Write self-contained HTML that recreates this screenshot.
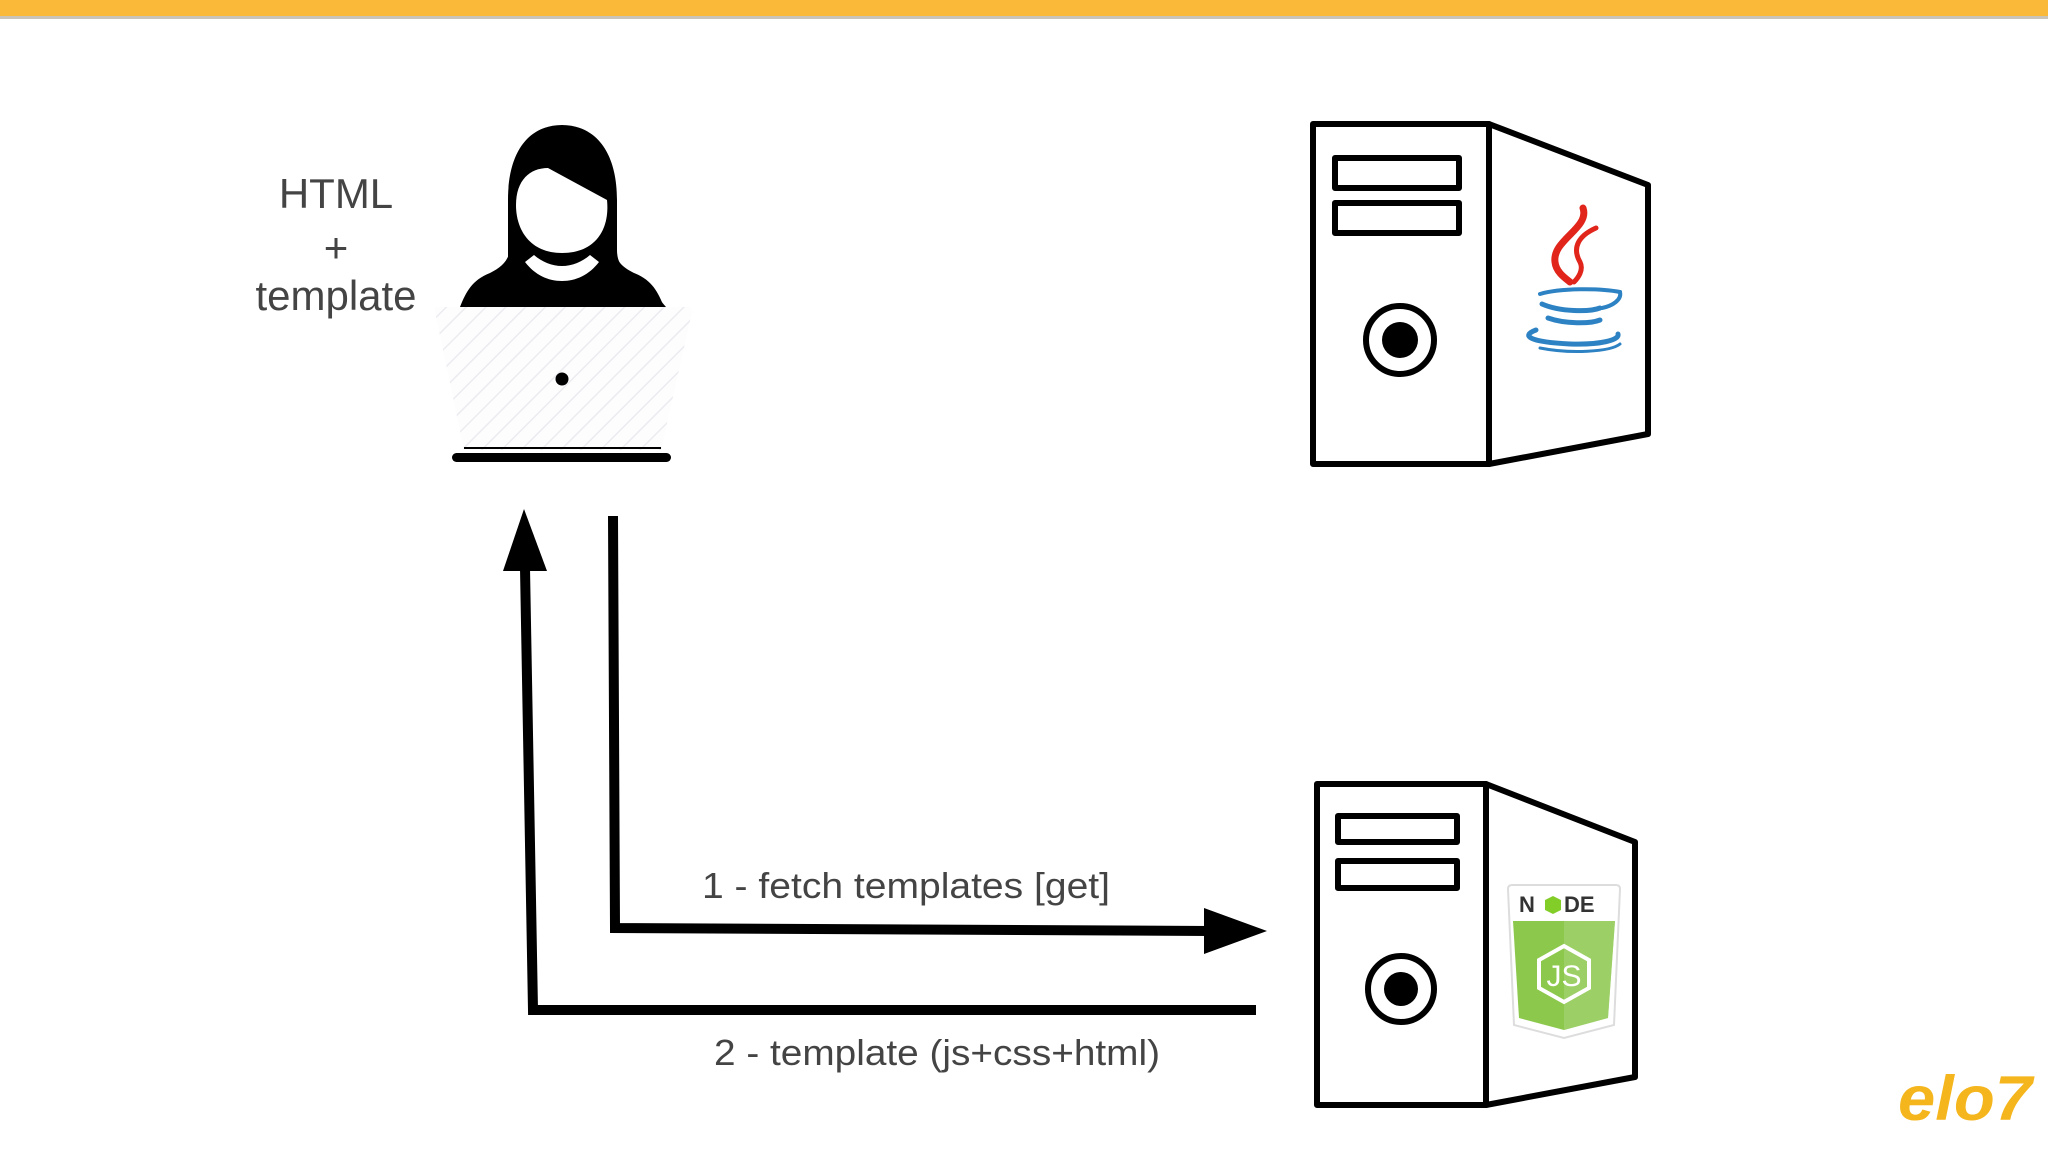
<!DOCTYPE html>
<html><head><meta charset="utf-8"><style>
html,body{margin:0;padding:0;background:#fff;}
svg{display:block;}
text{font-family:"Liberation Sans",Arial,sans-serif;}
</style></head><body>
<svg width="2048" height="1152" viewBox="0 0 2048 1152" xmlns="http://www.w3.org/2000/svg">
<defs>
<pattern id="hatch" width="14" height="14" patternUnits="userSpaceOnUse" patternTransform="rotate(45)">
<rect width="14" height="14" fill="#fdfdfe"/>
<line x1="0" y1="0" x2="0" y2="14" stroke="#ecebf0" stroke-width="3"/>
</pattern>
</defs>
<rect x="0" y="0" width="2048" height="16" fill="#FBB93A"/>
<rect x="0" y="16" width="2048" height="3" fill="#c9c3b8"/>

<g fill="#444" font-size="42" text-anchor="middle">
<text x="336" y="208">HTML</text>
<text x="336" y="262">+</text>
<text x="336" y="310">template</text>
</g>

<path d="M508 307 L508 200 C508 150 530 125 562 125 C594 125 617 150 617 200 L617 250 C617 265 625 272 640 282 C655 292 660 300 666 307 Z" fill="#000"/>
<path d="M460 307 C466 292 472 280 490 273 C500 268 508 262 510 250 L615 250 C616 262 624 268 634 273 C652 280 658 292 664 307 Z" fill="#000"/>
<path d="M516 205 C516 180 530 168 548 168 L607 200 C610 230 595 253 562 253 C530 253 516 230 516 205 Z" fill="#fff"/>
<path d="M525 262 C535 275 548 281 562 281 C576 281 589 275 599 262 L590 255 C582 262 572 266 562 266 C552 266 542 262 534 255 Z" fill="#fff"/>
<path d="M435 307 L690 307 L692 312 L661 450 L464 450 L435 312 Z" fill="url(#hatch)"/>
<line x1="464" y1="448" x2="661" y2="448" stroke="#000" stroke-width="2"/>
<rect x="452" y="453" width="219" height="9" rx="4.5" fill="#000"/>
<circle cx="562" cy="379" r="6.5" fill="#000"/>

<g fill="none" stroke="#000" stroke-width="10">
<polyline points="613,516 615,928 1210,931"/>
<polyline points="1256,1010 533,1010 525,568"/>
</g>
<polygon points="1204,908 1267,931 1204,954" fill="#000"/>
<polygon points="503,571 524,509 547,571" fill="#000"/>
<g fill="#444" font-size="36">
<text x="702" y="898" textLength="408" lengthAdjust="spacingAndGlyphs">1 - fetch templates [get]</text>
<text x="714" y="1065" textLength="446" lengthAdjust="spacingAndGlyphs">2 - template (js+css+html)</text>
</g>

<g fill="#fff" stroke="#000" stroke-width="6" stroke-linejoin="round">
<rect x="1313" y="124" width="176" height="340"/>
<polygon points="1489,124 1648,185 1648,434 1489,464"/>
<rect x="1335" y="158" width="124" height="30"/>
<rect x="1335" y="203" width="124" height="30"/>
<circle cx="1400" cy="340" r="34"/>
</g>
<circle cx="1400" cy="340" r="18" fill="#000"/>
<g fill="none" stroke-linecap="round">
<path d="M1583 208 C1590 228 1552 240 1555 262 C1556 272 1565 278 1570 282" stroke="#e1251b" stroke-width="7"/>
<path d="M1596 228 C1578 236 1572 248 1580 262 C1584 270 1578 278 1574 282" stroke="#e1251b" stroke-width="5"/>
<path d="M1540 294 C1560 288 1600 288 1620 292" stroke="#2d82c4" stroke-width="4"/>
<path d="M1620 292 C1622 300 1612 306 1602 308" stroke="#2d82c4" stroke-width="4"/>
<path d="M1542 304 C1560 312 1590 312 1600 308" stroke="#2d82c4" stroke-width="5"/>
<path d="M1548 318 C1565 324 1590 324 1600 320" stroke="#2d82c4" stroke-width="5"/>
<path d="M1536 330 C1520 336 1530 342 1570 344 C1600 345 1620 340 1618 334" stroke="#2d82c4" stroke-width="5"/>
<path d="M1540 348 C1570 354 1610 352 1620 344" stroke="#2d82c4" stroke-width="3"/>
</g>

<g fill="#fff" stroke="#000" stroke-width="6" stroke-linejoin="round">
<rect x="1317" y="784" width="169" height="321"/>
<polygon points="1486,784 1635,842 1635,1077 1486,1105"/>
<rect x="1338" y="816" width="119" height="26"/>
<rect x="1338" y="861" width="119" height="27"/>
<circle cx="1401" cy="989" r="33"/>
</g>
<circle cx="1401" cy="989" r="17" fill="#000"/>
<path d="M1508 889 Q1508 885 1512 885 L1616 885 Q1620 885 1620 889 L1614 1025 L1564 1038 L1514 1025 Z" fill="#fff" stroke="#ddd" stroke-width="2"/>
<text x="1519" y="912" font-size="22" font-weight="bold" fill="#333">N</text>
<polygon points="1553,896 1561,900 1561,910 1553,914 1545,910 1545,900" fill="#83cd29"/>
<text x="1564" y="912" font-size="22" font-weight="bold" fill="#333">DE</text>
<path d="M1513 921 L1615 921 L1608 1018 L1564 1030 L1519 1018 Z" fill="#8cc84b"/>
<path d="M1564 921 L1615 921 L1608 1018 L1564 1030 Z" fill="#a8d47a" opacity="0.6"/>
<polygon points="1564,946 1589,960 1589,988 1564,1002 1539,988 1539,960" fill="none" stroke="#fff" stroke-width="4"/>
<text x="1564" y="986" font-size="30" fill="#fff" text-anchor="middle">JS</text>

<text x="1898" y="1120" font-size="63" font-style="italic" font-weight="bold" fill="#F5B51C" font-family="Liberation Serif, serif" textLength="134" lengthAdjust="spacingAndGlyphs">elo7</text>
</svg>
</body></html>
